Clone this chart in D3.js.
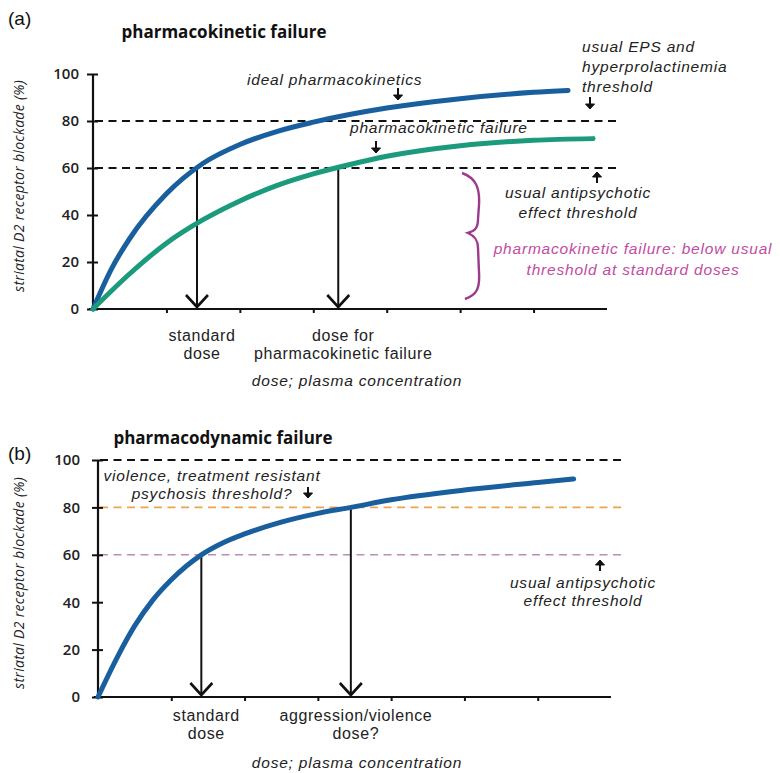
<!DOCTYPE html>
<html><head><meta charset="utf-8">
<script src="https://cdn.jsdelivr.net/npm/d3@7"></script>
<style>
body{margin:0;background:#fff;}
svg{display:block;font-family:"Open Sans",sans-serif;}
</style></head>
<body><svg id="c" width="780" height="773"></svg>
<script>
// ---------- data ----------
const yTicks = [0, 20, 40, 60, 80, 100];
const xTicks = [1, 2, 3, 4, 5, 6];
// panel (a)
const doseIdealA = [0, 0.25, 0.5, 1, 1.5, 2, 2.5, 3, 4, 5, 6, 6.47];
const idealA     = [0, 17, 30, 49, 62, 70, 75.5, 79.5, 85.5, 89.5, 92.2, 93];
const doseFailA  = [0, 0.5, 1, 1.5, 2, 2.5, 3, 3.5, 4, 5, 6, 6.81];
const failA      = [0, 15, 28, 38, 46, 52.5, 57.5, 61.5, 65, 69.5, 71.8, 72.5];
const thresholdsA = [80, 60];
const arrowDoseA  = [1.416, 3.34];
const arrowLevelA = [60, 60];
const arrowLabelsA = [["standard", "dose"], ["dose for", "pharmacokinetic failure"]];
// panel (b)
const doseB  = [0, 0.25, 0.5, 0.75, 1, 1.41, 1.7, 2, 2.5, 3, 3.45, 4, 5, 6, 6.49];
const curveB = [0, 16, 30, 41, 49.5, 60, 65, 68.8, 73.8, 77.5, 80, 83.2, 87.3, 90.5, 92];
const thresholdsB = [100, 80, 60];
const thresholdColorsB = ["#111", "#f0a24e", "#b98cbc"];
const arrowDoseB  = [1.41, 3.45];
const arrowLevelB = [60, 80];
const arrowLabelsB = [["standard", "dose"], ["aggression/violence", "dose?"]];

// ---------- drawing ----------
const svg = d3.select("#c");
const BLUE = "#195f9e", GREEN = "#1b9b7c", MAG = "#9c3a8c", PINK = "#c24ba3";
const ANNO = "Liberation Sans, Arial, sans-serif";

function multi(g, xx, yy, lines, dy, anchor) {
  const t = g.append("text").attr("x", xx).attr("y", yy).attr("text-anchor", anchor || "start");
  lines.forEach((s, j) => t.append("tspan").attr("x", xx).attr("dy", j ? dy : 0).text(s));
  return t;
}

function panel(o) {
  const g = svg.append("g");
  const x = d3.scaleLinear().domain([0, 7]).range([o.x0, o.x1]);
  const y = d3.scaleLinear().domain([0, 100]).range([o.y0, o.y1]);
  o.thr.forEach((t, i) => {
    g.append("line").attr("x1", x(0) + 2).attr("x2", o.dashEnd)
      .attr("y1", y(t)).attr("y2", y(t))
      .attr("stroke", o.thrColors[i]).attr("stroke-width", o.thrWidths[i])
      .attr("stroke-dasharray", "8,5.5");
  });
  const ya = g.append("g").attr("transform", `translate(${x(0)},0)`)
    .call(d3.axisLeft(y).tickValues(yTicks).tickSize(5).tickPadding(o.tickPad));
  ya.select(".domain").attr("stroke", "#111").attr("stroke-width", 2.2).attr("d", `M0,${y(0)}V${y(100)}`);
  ya.selectAll(".tick line").attr("x1", -6).attr("x2", 5).attr("stroke", "#111").attr("stroke-width", 2);
  ya.selectAll(".tick text").attr("font-size", 15).attr("font-weight", 600).attr("fill", "#222")
    .attr("font-family", "Open Sans");
  const xa = g.append("g").attr("transform", `translate(0,${y(0)})`)
    .call(d3.axisBottom(x).tickValues(xTicks).tickSize(4).tickFormat(""));
  xa.select(".domain").attr("stroke", "#111").attr("stroke-width", 2.2).attr("d", `M${x(0) - 4},0H${x(7)}`);
  xa.selectAll(".tick line").attr("stroke", "#111").attr("stroke-width", 2);
  o.arrDose.forEach((d, i) => {
    const ax = x(d), top = y(o.arrLevel[i]), bot = y(0) - 2;
    g.append("line").attr("x1", ax).attr("x2", ax).attr("y1", top).attr("y2", bot)
      .attr("stroke", "#111").attr("stroke-width", 2);
    g.append("path").attr("d", `M${ax - 11},${bot - 12}L${ax},${bot}L${ax + 11},${bot - 12}`)
      .attr("fill", "none").attr("stroke", "#111").attr("stroke-width", 2.6);
    multi(g, ax + 5, o.labY, o.arrLabels[i], 18, "middle")
      .attr("font-family", ANNO).attr("font-size", 16).attr("letter-spacing", 0.6)
      .attr("fill", "#222");
  });
  const line = d3.line().x(d => x(d[0])).y(d => y(d[1])).curve(d3.curveMonotoneX);
  o.curves.forEach(c => {
    g.append("path").datum(d3.zip(c.dose, c.val)).attr("d", line)
      .attr("fill", "none").attr("stroke", c.color).attr("stroke-width", 5)
      .attr("stroke-linecap", "round");
  });
  g.append("text").attr("transform", `translate(${o.yLabX},${o.yLabY}) rotate(-90)`)
    .attr("text-anchor", "middle").attr("font-size", 14).attr("letter-spacing", 0.3)
    .attr("font-style", "italic").attr("fill", "#222").text("striatal D2 receptor blockade (%)");
  g.append("text").attr("x", 357).attr("y", o.xLabY).attr("text-anchor", "middle")
    .attr("font-family", ANNO).attr("font-size", 15.5).attr("letter-spacing", 0.8)
    .attr("font-style", "italic").attr("fill", "#222")
    .text("dose; plasma concentration");
  g.append("text").attr("x", o.titleX).attr("y", o.titleY).attr("text-anchor", "middle")
    .attr("font-size", 17).attr("font-weight", 700).attr("fill", "#111").text(o.title);
  g.append("text").attr("x", 8).attr("y", o.tagY).attr("font-size", 19)
    .attr("font-family", "Liberation Sans, Arial").attr("fill", "#111").text(o.tag);
  return {g, x, y};
}

function smallArrow(g, ax, y1, y2) {
  const dir = y2 > y1 ? 1 : -1;
  g.append("line").attr("x1", ax).attr("x2", ax).attr("y1", y1).attr("y2", y2 - dir * 4)
    .attr("stroke", "#111").attr("stroke-width", 2);
  g.append("path").attr("d", `M${ax - 4.5},${y2 - dir * 5}L${ax},${y2}L${ax + 4.5},${y2 - dir * 5}Z`)
    .attr("fill", "#111").attr("stroke", "#111").attr("stroke-width", 1);
}
function ital(g, xx, yy, lines, dy, anchor, color) {
  return multi(g, xx, yy, lines, dy, anchor)
    .attr("font-family", ANNO).attr("font-size", 15.5).attr("letter-spacing", 0.8)
    .attr("font-style", "italic").attr("fill", color || "#222");
}

// panel a
const A = panel({
  x0: 93, x1: 607, y0: 309, y1: 74, dashEnd: 620, tickPad: 9,
  thr: thresholdsA, thrColors: ["#111", "#111"], thrWidths: [2, 2],
  arrDose: arrowDoseA, arrLevel: arrowLevelA, arrLabels: arrowLabelsA, labY: 341,
  curves: [{dose: doseIdealA, val: idealA, color: BLUE}, {dose: doseFailA, val: failA, color: GREEN}],
  yLabX: 24, yLabY: 186, xLabY: 386, title: "pharmacokinetic failure", titleX: 224, titleY: 38,
  tag: "(a)", tagY: 25
});
ital(A.g, 247, 85, ["ideal pharmacokinetics"], 0);
smallArrow(A.g, 398, 88, 100);
ital(A.g, 350, 133, ["pharmacokinetic failure"], 0);
smallArrow(A.g, 376, 141, 153);
ital(A.g, 582, 52, ["usual EPS and", "hyperprolactinemia", "threshold"], 20);
smallArrow(A.g, 590, 97, 109);
smallArrow(A.g, 597, 183, 172);
ital(A.g, 578, 198, ["usual antipsychotic", "effect threshold"], 20, "middle");
A.g.append("path")
  .attr("d", "M462,173 C476,178 480,188 479,205 L478,219 C478,228 475,231 468,233 C475,236 478,240 478,248 L479,272 C480,288 477,295 465,299")
  .attr("fill", "none").attr("stroke", MAG).attr("stroke-width", 2.4);
ital(A.g, 633, 254, ["pharmacokinetic failure: below usual", "threshold at standard doses"], 21, "middle", PINK);

// panel b
const B = panel({
  x0: 98, x1: 611, y0: 697, y1: 460, dashEnd: 626, tickPad: 13,
  thr: thresholdsB, thrColors: thresholdColorsB, thrWidths: [2, 1.8, 1.6],
  arrDose: arrowDoseB, arrLevel: arrowLevelB, arrLabels: arrowLabelsB, labY: 721,
  curves: [{dose: doseB, val: curveB, color: BLUE}],
  yLabX: 24, yLabY: 583, xLabY: 768, title: "pharmacodynamic failure", titleX: 223, titleY: 444,
  tag: "(b)", tagY: 460
});
ital(B.g, 212, 481, ["violence, treatment resistant", "psychosis threshold?"], 17.5, "middle");
smallArrow(B.g, 308, 487, 498);
smallArrow(B.g, 600, 571, 560);
ital(B.g, 583, 588, ["usual antipsychotic", "effect threshold"], 18, "middle");
</script></body></html>
